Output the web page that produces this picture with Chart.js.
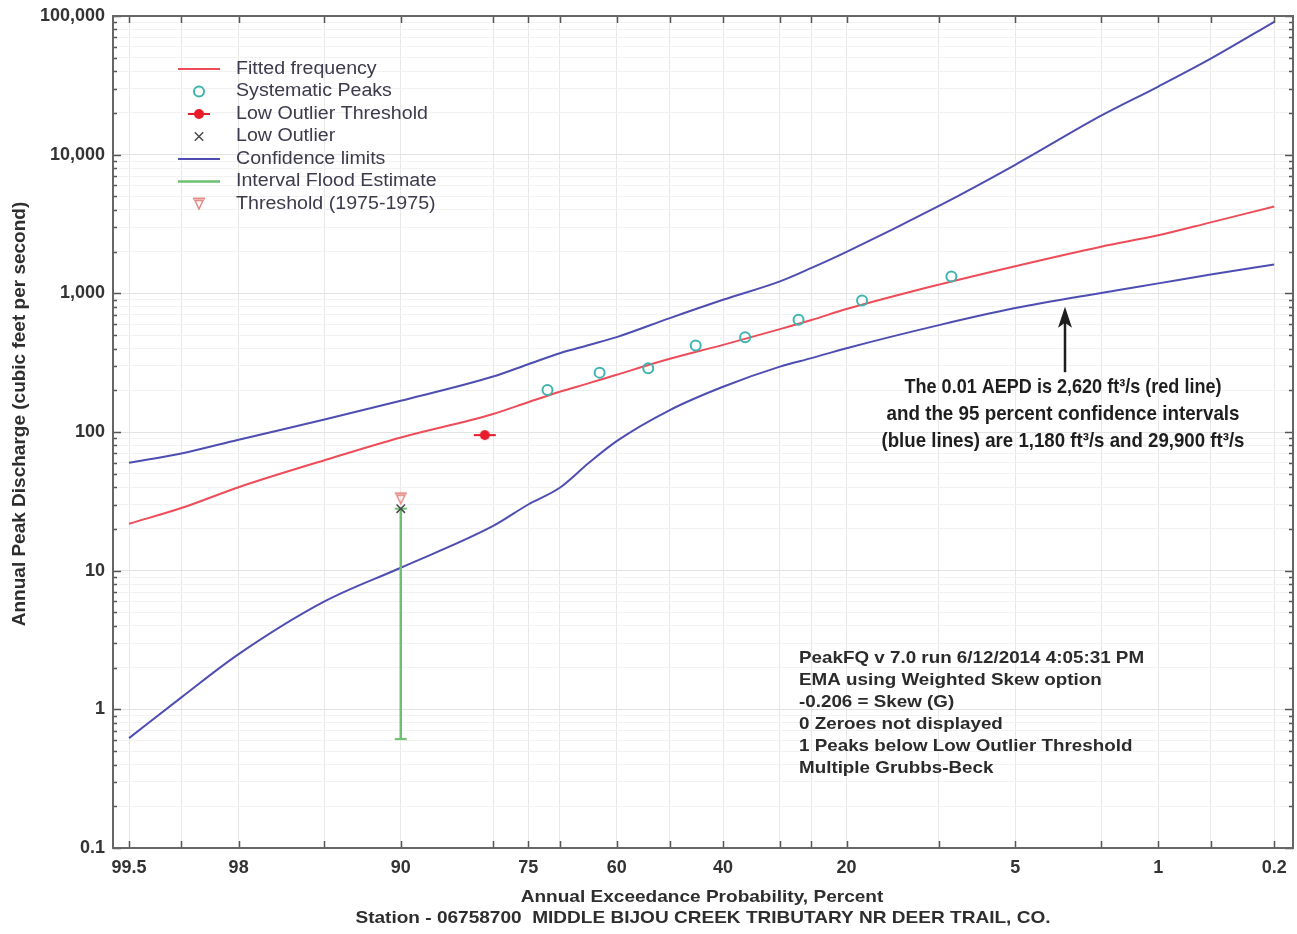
<!DOCTYPE html>
<html>
<head>
<meta charset="utf-8">
<title>PeakFQ frequency curve</title>
<script src="https://cdn.jsdelivr.net/npm/chart.js@4.4.1/dist/chart.umd.min.js"></script>
<style>
  html, body { margin: 0; padding: 0; background: #fff; overflow: hidden; }
  #myChart { display: block; }
</style>
</head>
<body>
<canvas id="myChart" width="1297" height="934"></canvas>
<script>
// curves: annual exceedance probability (percent) and discharge (ft3/s)
const curveAep = [99.5, 99, 98, 95, 90, 80, 75, 70, 65, 60, 50, 40, 30, 25, 20, 10, 5, 2, 1, 0.5, 0.2];
const fittedQ = [21.8, 28.3, 40, 62.6, 91.4, 135, 164, 195, 225, 259, 337, 425, 552, 642, 770, 1156, 1570, 2170, 2620, 3250, 4230];
const upperQ = [60, 70, 88, 123, 168, 251, 308, 370, 424, 483, 663, 899, 1219, 1524, 1990, 4266, 8450, 19100, 31000, 49200, 90800];
const lowerQ = [0.62, 1.22, 2.5, 6.0, 10.5, 21, 30, 39.6, 60, 86, 144, 212, 296, 341, 402, 590, 783, 1007, 1180, 1365, 1614];

// observed peaks
const peakAep = [72.0, 63.1, 54.1, 45.1, 36.0, 27.0, 18.0, 9.0];
const peakQ = [201, 268, 288, 420, 483, 644, 889, 1325];
const lotAep = [81.1];
const lotQ = [95];
const lowOutAep = [90];
const lowOutQ = [28];
const intervalAep = [90, 90];
const intervalQ = [0.61, 28];
const threshAep = [90];
const threshQ = [33];

// axis ticks
const xTickAep = [99.5, 99, 98, 95, 90, 80, 75, 70, 60, 50, 40, 30, 25, 20, 10, 5, 2, 1, 0.5, 0.2];
const xTickLabels = ['99.5', '', '98', '', '90', '', '75', '', '60', '', '40', '', '', '20', '', '5', '', '1', '', '0.2'];
const yDecades = [0.1, 1, 10, 100, 1000, 10000, 100000];

const legendOrder = ['Fitted frequency', 'Systematic Peaks', 'Low Outlier Threshold', 'Low Outlier',
  'Confidence limits', 'Interval Flood Estimate', 'Threshold (1975-1975)'];
const noteLines = ['PeakFQ v 7.0 run 6/12/2014 4:05:31 PM', 'EMA using Weighted Skew option', '-0.206 = Skew (G)',
  '0 Zeroes not displayed', '1 Peaks below Low Outlier Threshold', 'Multiple Grubbs-Beck'];
const calloutLines = ['The 0.01 AEPD is 2,620 ft\u00b3/s (red line)', 'and the 95 percent confidence intervals',
  '(blue lines) are 1,180 ft\u00b3/s and 29,900 ft\u00b3/s'];

// inverse normal CDF (Acklam), used for the probability axis
function probit(p) {
  const a = [-3.969683028665376e+01, 2.209460984245205e+02, -2.759285104469687e+02, 1.383577518672690e+02, -3.066479806614716e+01, 2.506628277459239e+00];
  const b = [-5.447609879822406e+01, 1.615858368580409e+02, -1.556989798598866e+02, 6.680131188771972e+01, -1.328068155288572e+01];
  const c = [-7.784894002430293e-03, -3.223964580411365e-01, -2.400758277161838e+00, -2.549671664034830e+00, 4.374664141464968e+00, 2.938163982698783e+00];
  const d = [7.784695709041462e-03, 3.224671290700398e-01, 2.445134137142996e+00, 3.754408661907416e+00];
  const pl = 0.02425;
  let q, r;
  if (p < pl) {
    q = Math.sqrt(-2 * Math.log(p));
    return (((((c[0] * q + c[1]) * q + c[2]) * q + c[3]) * q + c[4]) * q + c[5]) / ((((d[0] * q + d[1]) * q + d[2]) * q + d[3]) * q + 1);
  }
  if (p <= 1 - pl) {
    q = p - 0.5; r = q * q;
    return (((((a[0] * r + a[1]) * r + a[2]) * r + a[3]) * r + a[4]) * r + a[5]) * q / (((((b[0] * r + b[1]) * r + b[2]) * r + b[3]) * r + b[4]) * r + 1);
  }
  q = Math.sqrt(-2 * Math.log(1 - p));
  return -(((((c[0] * q + c[1]) * q + c[2]) * q + c[3]) * q + c[4]) * q + c[5]) / ((((d[0] * q + d[1]) * q + d[2]) * q + d[3]) * q + 1);
}
function zx(aep) { return probit(1 - aep / 100); }
function pts(aeps, qs) { return aeps.map(function (a, i) { return { x: zx(a), y: qs[i] }; }); }
function isDecade(v) { const l = Math.log10(v); return Math.abs(l - Math.round(l)) < 1e-9; }

const yTicks = [];
yDecades.forEach(function (dec, i) {
  if (i === yDecades.length - 1) { yTicks.push(dec); return; }
  for (let m = 1; m <= 9; m++) yTicks.push(Number((m * dec).toPrecision(6)));
});

const red = '#ee4c58', blue = '#4e4eb2', green = '#6cc070', teal = '#3fb4ae';
const dotRed = '#e81c2a', grayX = '#4a4a4a', salmon = '#e58a84';
const FONT = '"Liberation Sans", Arial, sans-serif';

// marker images
const lotImg = document.createElement('canvas');
lotImg.width = 24; lotImg.height = 12;
(function () {
  const g = lotImg.getContext('2d');
  g.strokeStyle = dotRed; g.lineWidth = 2;
  g.beginPath(); g.moveTo(1, 6); g.lineTo(23, 6); g.stroke();
  g.fillStyle = dotRed; g.beginPath(); g.arc(12, 6, 5, 0, Math.PI * 2); g.fill();
})();
const threshImg = document.createElement('canvas');
threshImg.width = 16; threshImg.height = 16;
(function () {
  const g = threshImg.getContext('2d');
  g.strokeStyle = salmon; g.lineWidth = 2;
  g.beginPath(); g.moveTo(2, 2.5); g.lineTo(14, 2.5); g.stroke();
  g.lineWidth = 1.5;
  g.beginPath(); g.moveTo(4, 4.5); g.lineTo(12, 4.5); g.lineTo(8, 13); g.closePath(); g.stroke();
})();

function stretchText(ctx, text, x, y, sx, align) {
  const w = ctx.measureText(text).width * sx;
  let left = x;
  if (align === 'center') left = x - w / 2;
  else if (align === 'right') left = x - w;
  ctx.save();
  ctx.translate(left, y);
  ctx.scale(sx, 1);
  ctx.textAlign = 'left';
  ctx.fillText(text, 0, 0);
  ctx.restore();
}

// frame and inward tick marks on all four sides
const framePlugin = {
  id: 'frame',
  afterDraw: function (chart) {
    const ctx = chart.ctx, a = chart.chartArea, xs = chart.scales.x, ys = chart.scales.y;
    ctx.save();
    ctx.strokeStyle = '#555';
    ctx.lineWidth = 1.5;
    ctx.beginPath();
    xTickAep.forEach(function (p) {
      const px = Math.round(xs.getPixelForValue(zx(p))) + 0.5;
      ctx.moveTo(px, a.bottom); ctx.lineTo(px, a.bottom - 7);
      ctx.moveTo(px, a.top); ctx.lineTo(px, a.top + 7);
    });
    ys.ticks.forEach(function (t) {
      const py = Math.round(ys.getPixelForValue(t.value)) + 0.5;
      const len = isDecade(t.value) ? 8 : 4;
      ctx.moveTo(a.left, py); ctx.lineTo(a.left + len, py);
      ctx.moveTo(a.right, py); ctx.lineTo(a.right - len, py);
    });
    ctx.stroke();
    ctx.strokeStyle = '#666';
    ctx.lineWidth = 2;
    ctx.strokeRect(a.left, a.top, a.right - a.left, a.bottom - a.top);
    ctx.restore();
  }
};

const legendPlugin = {
  id: 'peakLegend',
  afterDraw: function (chart) {
    const ctx = chart.ctx, a = chart.chartArea;
    const x0 = a.left + 65, x1 = a.left + 107, tx = a.left + 123;
    ctx.save();
    ctx.font = '18px ' + FONT;
    ctx.textBaseline = 'middle';
    legendOrder.forEach(function (name, i) {
      const ds = chart.data.datasets.find(function (d) { return d.label === name; });
      const y = a.top + 53 + i * 22.5;
      if (ds.showLine) {
        ctx.strokeStyle = ds.borderColor;
        ctx.lineWidth = ds.borderWidth;
        ctx.beginPath(); ctx.moveTo(x0, y); ctx.lineTo(x1, y); ctx.stroke();
      } else {
        ctx.strokeStyle = ds.pointBorderColor || ds.borderColor || '#000';
        ctx.fillStyle = ds.pointBackgroundColor || 'rgba(0,0,0,0)';
        ctx.lineWidth = ds.pointBorderWidth || 1;
        Chart.helpers.drawPoint(ctx, { pointStyle: ds.pointStyle, radius: ds.pointRadius, borderWidth: ds.pointBorderWidth || 1, rotation: 0 }, (x0 + x1) / 2, y);
      }
      ctx.fillStyle = '#3d3a4c';
      stretchText(ctx, name, tx, y, 1.09, 'left');
    });
    ctx.restore();
  }
};

const notesPlugin = {
  id: 'notes',
  afterDraw: function (chart) {
    const ctx = chart.ctx, a = chart.chartArea, xs = chart.scales.x, ys = chart.scales.y;
    ctx.save();
    ctx.textBaseline = 'middle';

    // run information block
    ctx.font = 'bold 16.5px ' + FONT;
    ctx.fillStyle = '#2b2b2b';
    noteLines.forEach(function (t, i) {
      stretchText(ctx, t, a.left + 686, a.top + 642 + i * 22, 1.14, 'left');
    });

    // callout about the 0.01 AEP
    ctx.font = 'bold 20.5px "Liberation Sans Narrow", ' + FONT;
    ctx.fillStyle = '#1e1e1e';
    const widths = [317, 353, 363];
    calloutLines.forEach(function (t, i) {
      const sx = widths[i] / ctx.measureText(t).width;
      stretchText(ctx, t, a.left + 950, a.top + 371 + i * 27, sx, 'center');
    });

    // arrow up to the lower confidence limit
    const ax = Math.round(xs.getPixelForValue(zx(3)));
    const tipY = ys.getPixelForValue(800), baseY = ys.getPixelForValue(270);
    ctx.strokeStyle = '#1e1e1e';
    ctx.fillStyle = '#1e1e1e';
    ctx.lineWidth = 2.5;
    ctx.beginPath(); ctx.moveTo(ax, baseY); ctx.lineTo(ax, tipY + 14); ctx.stroke();
    ctx.beginPath();
    ctx.moveTo(ax, tipY); ctx.lineTo(ax - 7, tipY + 21); ctx.lineTo(ax, tipY + 16); ctx.lineTo(ax + 7, tipY + 21);
    ctx.closePath(); ctx.fill();

    // axis titles
    ctx.fillStyle = '#2e2e2e';
    ctx.font = 'bold 17px ' + FONT;
    stretchText(ctx, 'Annual Exceedance Probability, Percent', 702, 897, 1.12, 'center');
    stretchText(ctx, 'Station - 06758700  MIDDLE BIJOU CREEK TRIBUTARY NR DEER TRAIL, CO.', 703, 918, 1.12, 'center');
    ctx.save();
    ctx.translate(20, 414);
    ctx.rotate(-Math.PI / 2);
    ctx.font = 'bold 19px ' + FONT;
    ctx.textAlign = 'center';
    ctx.fillText('Annual Peak Discharge (cubic feet per second)', 0, 0);
    ctx.restore();
    ctx.restore();
  }
};

const ctx = document.getElementById('myChart').getContext('2d');

// eslint-disable-next-line no-unused-vars
const chart = new Chart(ctx, {
  type: 'scatter',
  data: {
    datasets: [
      { label: 'Low Outlier', data: pts(lowOutAep, lowOutQ), pointStyle: 'crossRot', pointRadius: 6,
        pointBorderColor: grayX, pointBorderWidth: 1.5 },
      { label: 'Threshold (1975-1975)', data: pts(threshAep, threshQ), pointStyle: threshImg, pointRadius: 8 },
      { label: 'Low Outlier Threshold', data: pts(lotAep, lotQ), pointStyle: lotImg, pointRadius: 6 },
      { label: 'Systematic Peaks', data: pts(peakAep, peakQ), pointStyle: 'circle', pointRadius: 5,
        pointBorderColor: teal, pointBackgroundColor: 'rgba(0,0,0,0)', pointBorderWidth: 2 },
      { label: 'Interval Flood Estimate', data: pts(intervalAep, intervalQ), showLine: true, borderColor: green,
        borderWidth: 2.5, pointStyle: 'line', pointRadius: 6, pointBorderColor: green, pointBorderWidth: 2 },
      { label: 'Fitted frequency', data: pts(curveAep, fittedQ), showLine: true, borderColor: red, borderWidth: 2,
        pointRadius: 0, cubicInterpolationMode: 'monotone' },
      { label: 'Confidence limits', data: pts(curveAep, upperQ), showLine: true, borderColor: blue, borderWidth: 2,
        pointRadius: 0, cubicInterpolationMode: 'monotone' },
      { label: 'Lower confidence limit', data: pts(curveAep, lowerQ), showLine: true, borderColor: blue, borderWidth: 2,
        pointRadius: 0, cubicInterpolationMode: 'monotone' }
    ]
  },
  options: {
    responsive: false,
    animation: false,
    layout: { autoPadding: false, padding: { top: 16, right: 4, left: 0, bottom: 0 } },
    plugins: { legend: { display: false }, tooltip: { enabled: false } },
    scales: {
      x: {
        type: 'linear',
        min: zx(99.6),
        max: zx(0.15),
        bounds: 'data',
        afterBuildTicks: function (s) { s.ticks = xTickAep.map(function (p) { return { value: zx(p) }; }); },
        afterFit: function (s) { s.height = 86; s.paddingLeft = 0; s.paddingRight = 0; },
        ticks: {
          autoSkip: false, maxRotation: 0, padding: 9, color: '#333',
          font: { family: FONT, size: 18, weight: 'bold' },
          callback: function (v, i) { return xTickLabels[i]; }
        },
        grid: { color: '#e6eae6', lineWidth: 1, drawTicks: false },
        border: { display: false }
      },
      y: {
        type: 'logarithmic',
        min: 0.1,
        max: 100000,
        afterBuildTicks: function (s) { s.ticks = yTicks.map(function (v) { return { value: v }; }); },
        afterFit: function (s) { s.width = 113; s.paddingTop = 0; s.paddingBottom = 0; },
        ticks: {
          autoSkip: false, padding: 8, color: '#333',
          font: { family: FONT, size: 18, weight: 'bold' },
          callback: function (v) { return isDecade(v) ? Number(v).toLocaleString('en-US') : ''; }
        },
        grid: {
          drawTicks: false, lineWidth: 1,
          color: function (c) { return c.tick && isDecade(c.tick.value) ? '#e2e4e2' : '#f1f2f1'; }
        },
        border: { display: false }
      }
    }
  },
  plugins: [framePlugin, legendPlugin, notesPlugin]
});
</script>
</body>
</html>
